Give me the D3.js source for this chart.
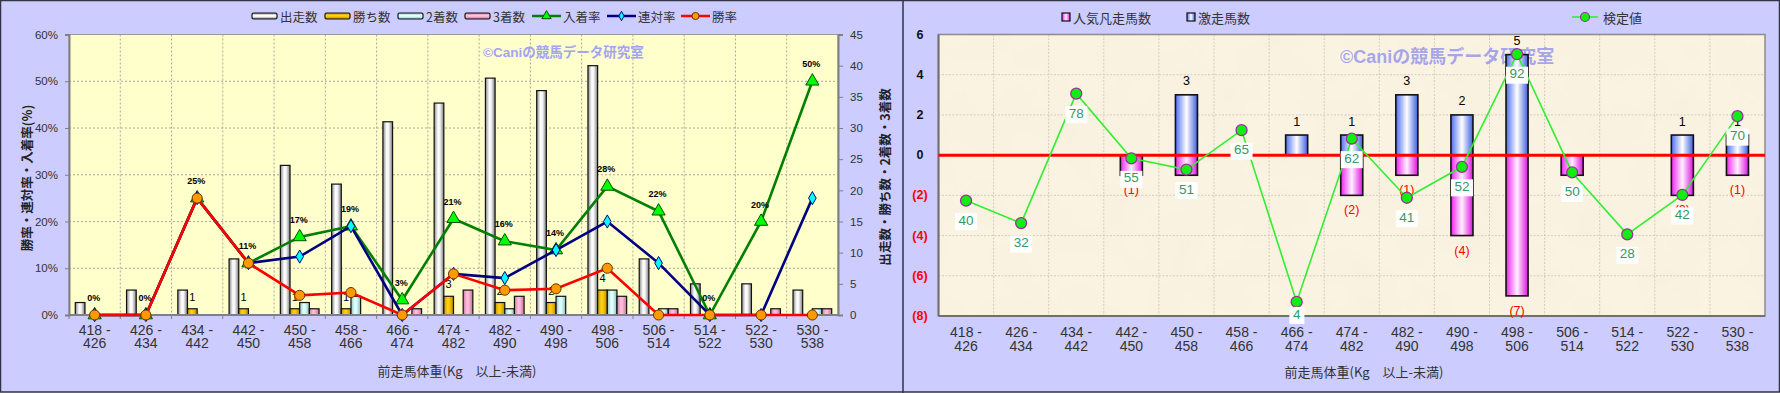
<!DOCTYPE html>
<html><head><meta charset="utf-8">
<script src="https://cdn.jsdelivr.net/npm/d3@7"></script>
<style>
html,body{margin:0;padding:0;background:#fff;}
svg{display:block;}
text{font-family:"Liberation Sans","Noto Sans CJK JP",sans-serif;}
.cjk{font-family:"Noto Sans CJK JP","Liberation Sans",sans-serif;}
</style></head><body>
<svg id="chart" width="1780" height="393"></svg>
<script>
// ---------- data ----------
const categories = ["418-426","426-434","434-442","442-450","450-458","458-466","466-474","474-482","482-490","490-498","498-506","506-514","514-522","522-530","530-538"];
// left chart: counts (right axis)
const runs    = [2,4,4,9,24,21,31,34,38,36,40,9,5,5,4];
const wins    = [0,0,1,1,1,1,0,3,2,2,4,0,0,0,0];
const seconds = [0,0,0,0,2,3,0,0,1,3,4,1,0,0,1];
const thirds  = [0,0,0,0,1,0,1,4,3,0,3,1,0,1,1];
// left chart: rates in % (left axis)
const placeRate  = [0,0,25,11.1,16.7,19.0,3.2,20.6,15.8,13.9,27.5,22.2,0,20,50];
const rentaiRate = [0,0,25,11.1,12.5,19.0,0,8.8,7.9,13.9,20,11.1,0,0,25];
const winRate    = [0,0,25,11.1,4.2,4.8,0,8.8,5.3,5.6,10,0,0,0,0];
const pctTicks = [0,10,20,30,40,50,60];
const cntTicks = [0,5,10,15,20,25,30,35,40,45];
// right chart
const gekisou = [0,0,0,0,3,0,1,1,3,2,5,0,0,1,1];   // 激走馬数 (up)
const bonsou  = [0,0,0,1,1,0,0,2,1,4,7,1,0,2,1];   // 人気凡走馬数 (down)
const kentei  = [40,32,78,55,51,65,4,62,41,52,92,50,28,42,70]; // 検定値
const rTicks = [-8,-6,-4,-2,0,2,4,6];

// ---------- setup ----------
const svg = d3.select("#chart");
const defs = svg.append("defs");
function grad(id, stops, vertical){
  const g = defs.append("linearGradient").attr("id", id)
    .attr("x1",0).attr("y1",0).attr("x2",vertical?0:1).attr("y2",vertical?1:0);
  stops.forEach(([o,c]) => g.append("stop").attr("offset",o).attr("stop-color",c));
}
const gradDefs = {
  gray:  [["0","#8a8a8a"],["0.4","#ffffff"],["0.6","#f4f4f4"],["1","#7a7a7a"]],
  gold:  [["0","#c99400"],["0.4","#ffd21a"],["0.6","#f7c600"],["1","#b98700"]],
  cyan:  [["0","#8fc4c4"],["0.4","#e6ffff"],["0.6","#d4fbfb"],["1","#86b8b8"]],
  pinkL: [["0","#cf7aa4"],["0.4","#ffc2de"],["0.6","#fbb2d4"],["1","#c56e98"]],
  blue:  [["0","#4d6ef0"],["0.5","#ffffff"],["1","#3d5ee0"]],
  mag:   [["0","#ee22ee"],["0.5","#fff0ff"],["1","#e010e0"]]
};
Object.entries(gradDefs).forEach(([k,s]) => { grad("h_"+k, s, false); grad("v_"+k, s, true); });

// parchment texture
const f = defs.append("filter").attr("id","parch").attr("x",0).attr("y",0).attr("width","100%").attr("height","100%");
f.append("feTurbulence").attr("type","fractalNoise").attr("baseFrequency","0.02").attr("numOctaves",4).attr("seed",7);
f.append("feColorMatrix").attr("type","matrix")
  .attr("values","0 0 0 0 0.90  0 0 0 0 0.83  0 0 0 0 0.66  0.55 0 0 0 -0.2");

// panels
svg.append("rect").attr("x",0.5).attr("y",0.5).attr("width",1779).attr("height",391.5)
  .attr("fill","#CCCCFF").attr("stroke","#333344").attr("stroke-width",1.5);
svg.append("line").attr("x1",903).attr("x2",903).attr("y1",0).attr("y2",393)
  .attr("stroke","#333344").attr("stroke-width",1.5);

// ================= LEFT CHART =================
const L = {left:69, right:838, top:34.5, bottom:315};
const barKeys = ["runs","wins","seconds","thirds"];
const barData = {runs, wins, seconds, thirds};
const barFill = {runs:"gray", wins:"gold", seconds:"cyan", thirds:"pinkL"};
const xL = d3.scaleBand().domain(categories).range([L.left, L.right]);
const xLs = d3.scaleBand().domain(barKeys).range([0, xL.bandwidth()]).paddingOuter(0.65);
const yPct = d3.scaleLinear().domain([0,60]).range([L.bottom, L.top]);
const yCnt = d3.scaleLinear().domain([0,45]).range([L.bottom, L.top]);
const gl = svg.append("g");

gl.append("rect").attr("x",L.left).attr("y",L.top).attr("width",L.right-L.left).attr("height",L.bottom-L.top)
  .attr("fill","#FFFFCC");
// grid
gl.selectAll(".hg").data(pctTicks.filter(d=>d>0)).join("line")
  .attr("x1",L.left).attr("x2",L.right).attr("y1",d=>yPct(d)).attr("y2",d=>yPct(d))
  .attr("stroke","#a8a8a0").attr("stroke-dasharray","2,2");
gl.selectAll(".vg").data(categories.slice(1)).join("line")
  .attr("x1",d=>xL(d)).attr("x2",d=>xL(d)).attr("y1",L.top).attr("y2",L.bottom)
  .attr("stroke","#a8a8a0").attr("stroke-dasharray","2,2");
gl.append("rect").attr("x",L.left).attr("y",L.top).attr("width",L.right-L.left).attr("height",L.bottom-L.top)
  .attr("fill","none").attr("stroke","#9a9a9a");

// watermark
gl.append("text").attr("x",483).attr("y",52).attr("dominant-baseline","central")
  .attr("font-size",13.5).attr("font-weight","bold").attr("fill","#a3a3f5")
  .text("©Caniの競馬データ研究室");

// bars
barKeys.forEach(k => {
  gl.append("g").selectAll("rect").data(barData[k].map((v,i)=>({v,c:categories[i]})).filter(d=>d.v>0)).join("rect")
    .attr("x",d=>xL(d.c)+xLs(k)).attr("width",xLs.bandwidth())
    .attr("y",d=>yCnt(d.v)).attr("height",d=>yCnt(0)-yCnt(d.v))
    .attr("fill","url(#h_"+barFill[k]+")").attr("stroke","#111").attr("stroke-width",1.2);
});
// win labels
gl.append("g").selectAll("text").data(wins.map((v,i)=>({v,c:categories[i]})).filter(d=>d.v>0)).join("text")
  .attr("x",d=>xL(d.c)+xLs("wins")+xLs.bandwidth()/2).attr("y",d=>yCnt(d.v)-12)
  .attr("text-anchor","middle").attr("dominant-baseline","central")
  .attr("font-size",11).attr("fill","#000").text(d=>d.v);

// axes
const axL = gl.append("g").attr("transform",`translate(${L.left},0)`)
  .call(d3.axisLeft(yPct).tickValues(pctTicks).tickFormat(d=>d+"%").tickSize(4).tickPadding(7));
const axR = gl.append("g").attr("transform",`translate(${L.right},0)`)
  .call(d3.axisRight(yCnt).tickValues(cntTicks).tickSize(5).tickPadding(7));
[axL,axR].forEach(a=>{
  a.select(".domain").attr("stroke","#808080").attr("stroke-width",2);
  a.selectAll(".tick line").attr("stroke","#808080");
  a.selectAll("text").attr("font-size",11.5).attr("fill","#333").attr("font-family","Liberation Sans");
});
gl.append("line").attr("x1",L.left).attr("x2",L.right).attr("y1",L.bottom).attr("y2",L.bottom)
  .attr("stroke","#808080").attr("stroke-width",2);
gl.selectAll(".xt").data(categories).join("line")
  .attr("x1",d=>xL(d)).attr("x2",d=>xL(d)).attr("y1",L.bottom).attr("y2",L.bottom+4).attr("stroke","#808080");
function catLabels(g, xs, y1, y2){
  const t = g.append("g").selectAll("text").data(categories).join("text")
    .attr("text-anchor","middle").attr("font-size",14).attr("fill","#333")
    .attr("dominant-baseline","central");
  t.append("tspan").attr("x",d=>xs(d)).attr("y",y1).text(d=>d.split("-")[0]+" -");
  t.append("tspan").attr("x",d=>xs(d)).attr("y",y2).text(d=>d.split("-")[1]);
}
catLabels(gl, d=>xL(d)+xL.bandwidth()/2, 330, 343);

// lines
const cx = i => xL(categories[i]) + xL.bandwidth()/2;
const lineSeries = [
  {vals:placeRate, color:"#008000", mfill:"#00ff00", mstroke:"#005000", sym:d3.symbolTriangle, size:75},
  {vals:rentaiRate, color:"#000080", mfill:"#00ffff", mstroke:"#000080", sym:d3.symbolDiamond, size:50},
  {vals:winRate, color:"#ff0000", mfill:"#ff9900", mstroke:"#663300", sym:d3.symbolCircle, size:80}
];
lineSeries.forEach(s=>{
  gl.append("path").datum(s.vals).attr("fill","none").attr("stroke",s.color).attr("stroke-width",2.6)
    .attr("d", d3.line().x((d,i)=>cx(i)).y(d=>yPct(d)));
  gl.append("g").selectAll("path").data(s.vals).join("path")
    .attr("transform",(d,i)=>`translate(${cx(i)},${yPct(d)})`)
    .attr("d", d3.symbol().type(s.sym).size(s.size)())
    .attr("fill",s.mfill).attr("stroke",s.mstroke).attr("stroke-width",1);
});
// place-rate labels
gl.append("g").selectAll("text").data(placeRate).join("text")
  .attr("x",(d,i)=>cx(i)-1).attr("y",d=>yPct(d)-17)
  .attr("text-anchor","middle").attr("dominant-baseline","central")
  .attr("font-size",9).attr("font-weight","bold").attr("fill","#000")
  .text(d=>Math.round(d)+"%");

// legend
const legL = [
  {x:252, label:"出走数", type:"bar", fill:"gray"},
  {x:325, label:"勝ち数", type:"bar", fill:"gold"},
  {x:398, label:"2着数", type:"bar", fill:"cyan"},
  {x:465, label:"3着数", type:"bar", fill:"pinkL"},
  {x:532, label:"入着率", type:"line", s:lineSeries[0]},
  {x:607, label:"連対率", type:"line", s:lineSeries[1]},
  {x:681, label:"勝率", type:"line", s:lineSeries[2]}
];
legL.forEach(it=>{
  const g = gl.append("g");
  if(it.type==="bar"){
    g.append("rect").attr("x",it.x).attr("y",13).attr("width",25).attr("height",6).attr("rx",1.5)
      .attr("fill","url(#v_"+it.fill+")").attr("stroke","#111").attr("stroke-width",1.2);
  } else {
    g.append("line").attr("x1",it.x).attr("x2",it.x+29).attr("y1",16).attr("y2",16)
      .attr("stroke",it.s.color).attr("stroke-width",2.5);
    g.append("path").attr("transform",`translate(${it.x+14.5},16)`)
      .attr("d", d3.symbol().type(it.s.sym).size(it.s.size*0.5)())
      .attr("fill",it.s.mfill).attr("stroke",it.s.mstroke).attr("stroke-width",1);
  }
  g.append("text").attr("class","cjk").attr("x",it.x+(it.type==="bar"?28:31)).attr("y",16)
    .attr("dominant-baseline","central").attr("font-size",12.5).attr("fill","#333").text(it.label);
});
// axis titles
gl.append("text").attr("class","cjk").attr("transform","translate(26,178) rotate(-90)")
  .attr("text-anchor","middle").attr("dominant-baseline","central")
  .attr("font-size",12.5).attr("font-weight","bold").attr("fill","#222").text("勝率・連対率・入着率(%)");
gl.append("text").attr("class","cjk").attr("transform","translate(884,177) rotate(-90)")
  .attr("text-anchor","middle").attr("dominant-baseline","central")
  .attr("font-size",12.5).attr("font-weight","bold").attr("fill","#222").text("出走数・勝ち数・2着数・3着数");
gl.append("text").attr("class","cjk").attr("x",457).attr("y",370)
  .attr("text-anchor","middle").attr("dominant-baseline","central")
  .attr("font-size",13).attr("fill","#333").text("前走馬体重(Kg　以上-未満)");

// ================= RIGHT CHART =================
const R = {left:938.5, right:1765, top:34.5, bottom:316};
const xR = d3.scaleBand().domain(categories).range([R.left,R.right]).paddingInner(0.6).paddingOuter(0.3);
const yR = d3.scaleLinear().domain([-8,6]).range([R.bottom,R.top]);
const yK = d3.scaleLinear().domain([-1,99]).range([R.bottom,R.top]);
const gr = svg.append("g");
const cR = c => xR(c) + xR.bandwidth()/2;
const bR = c => xR(c) - xR.step()*xR.paddingOuter();

gr.append("rect").attr("x",R.left).attr("y",R.top).attr("width",R.right-R.left).attr("height",R.bottom-R.top)
  .attr("fill","#FBF3E2");
gr.append("rect").attr("x",R.left).attr("y",R.top).attr("width",R.right-R.left).attr("height",R.bottom-R.top)
  .attr("fill","#fff").attr("filter","url(#parch)");
gr.selectAll(".hg").data(rTicks.filter(d=>d>-8 && d<6)).join("line")
  .attr("x1",R.left).attr("x2",R.right).attr("y1",d=>yR(d)).attr("y2",d=>yR(d))
  .attr("stroke","#d2ccc0").attr("stroke-dasharray","2,1.5");
gr.selectAll(".vg").data(categories.slice(1)).join("line")
  .attr("x1",d=>bR(d)).attr("x2",d=>bR(d)).attr("y1",R.top).attr("y2",R.bottom)
  .attr("stroke","#d2ccc0").attr("stroke-dasharray","2,1.5");
gr.append("rect").attr("x",R.left).attr("y",R.top).attr("width",R.right-R.left).attr("height",R.bottom-R.top)
  .attr("fill","none").attr("stroke","#8c8c8c").attr("stroke-width",1.5);
gr.append("line").attr("x1",R.left).attr("x2",R.left).attr("y1",R.top).attr("y2",R.bottom)
  .attr("stroke","#707070").attr("stroke-width",2);
gr.append("line").attr("x1",R.left).attr("x2",R.right).attr("y1",R.bottom).attr("y2",R.bottom)
  .attr("stroke","#707070").attr("stroke-width",2);

// watermark
gr.append("text").attr("x",1340).attr("y",57).attr("dominant-baseline","central")
  .attr("font-size",18).attr("font-weight","bold").attr("fill","#9b9bee").attr("fill-opacity",0.9)
  .text("©Caniの競馬データ研究室");

// y ticks
gr.append("g").selectAll("text").data(rTicks).join("text")
  .attr("x",920).attr("y",d=>yR(d)).attr("text-anchor","middle").attr("dominant-baseline","central")
  .attr("font-size",12.5).attr("font-weight","bold")
  .attr("fill",d=>d<0?"#ff0000":"#111").text(d=>d<0?`(${-d})`:d);
catLabels(gr, cR, 332, 346);

// bars
gr.append("g").selectAll("rect").data(gekisou.map((v,i)=>({v,c:categories[i]})).filter(d=>d.v>0)).join("rect")
  .attr("x",d=>xR(d.c)).attr("width",xR.bandwidth())
  .attr("y",d=>yR(d.v)).attr("height",d=>yR(0)-yR(d.v))
  .attr("fill","url(#h_blue)").attr("stroke","#111").attr("stroke-width",1.6);
gr.append("g").selectAll("rect").data(bonsou.map((v,i)=>({v,c:categories[i]})).filter(d=>d.v>0)).join("rect")
  .attr("x",d=>xR(d.c)).attr("width",xR.bandwidth())
  .attr("y",yR(0)).attr("height",d=>yR(-d.v)-yR(0))
  .attr("fill","url(#h_mag)").attr("stroke","#111").attr("stroke-width",1.6);
// count labels
gr.append("g").selectAll("text").data(gekisou.map((v,i)=>({v,c:categories[i]})).filter(d=>d.v>0)).join("text")
  .attr("x",d=>cR(d.c)).attr("y",d=>yR(d.v)-13.5).attr("text-anchor","middle").attr("dominant-baseline","central")
  .attr("font-size",12.5).attr("fill","#000").text(d=>d.v);
gr.append("g").selectAll("text").data(bonsou.map((v,i)=>({v,c:categories[i]})).filter(d=>d.v>0)).join("text")
  .attr("x",d=>cR(d.c)).attr("y",d=>yR(-d.v)+15).attr("text-anchor","middle").attr("dominant-baseline","central")
  .attr("font-size",12.5).attr("fill","#ff0000").text(d=>`(${d.v})`);
// zero line
gr.append("line").attr("x1",R.left).attr("x2",R.right).attr("y1",yR(0)).attr("y2",yR(0))
  .attr("stroke","#ff0000").attr("stroke-width",3);
// kentei line
const kx = i => cR(categories[i]);
gr.append("path").datum(kentei).attr("fill","none").attr("stroke","#33ee33").attr("stroke-width",1.6)
  .attr("d", d3.line().x((d,i)=>kx(i)).y(d=>yK(d)));
gr.append("g").selectAll("circle").data(kentei).join("circle")
  .attr("cx",(d,i)=>kx(i)).attr("cy",d=>yK(d)).attr("r",5.5)
  .attr("fill","#11ee11").attr("stroke","#993399").attr("stroke-width",1.3);
const kl = gr.append("g").selectAll("g").data(kentei).join("g")
  .attr("transform",(d,i)=>`translate(${kx(i)},${Math.min(yK(d)+19.5, R.bottom-2)})`);
const kt = kl.append("text").attr("text-anchor","middle").attr("dominant-baseline","central")
  .attr("font-size",13.5).attr("fill","#339966").text(d=>d);
kl.each(function(){
  const t = d3.select(this).select("text");
  const bb = t.node().getBBox();
  d3.select(this).insert("rect","text").attr("x",bb.x-3.5).attr("y",bb.y+0.5)
    .attr("width",bb.width+7).attr("height",bb.height+2).attr("fill","#fff");
});

// legend right
const legR = [
  {x:1062, label:"人気凡走馬数", fill:"mag"},
  {x:1187, label:"激走馬数", fill:"blue"}
];
legR.forEach(it=>{
  gr.append("rect").attr("x",it.x).attr("y",13).attr("width",8).attr("height",8)
    .attr("fill","url(#h_"+it.fill+")").attr("stroke","#111").attr("stroke-width",1.2);
  gr.append("text").attr("class","cjk").attr("x",it.x+11).attr("y",17).attr("dominant-baseline","central")
    .attr("font-size",13).attr("fill","#333").text(it.label);
});
gr.append("line").attr("x1",1572).attr("x2",1598).attr("y1",17).attr("y2",17).attr("stroke","#33ee33").attr("stroke-width",1.6);
gr.append("circle").attr("cx",1585).attr("cy",17).attr("r",4.5).attr("fill","#11ee11").attr("stroke","#993399").attr("stroke-width",1.2);
gr.append("text").attr("class","cjk").attr("x",1603).attr("y",17).attr("dominant-baseline","central")
  .attr("font-size",13).attr("fill","#333").text("検定値");
gr.append("text").attr("class","cjk").attr("x",1364).attr("y",371)
  .attr("text-anchor","middle").attr("dominant-baseline","central")
  .attr("font-size",13).attr("fill","#333").text("前走馬体重(Kg　以上-未満)");
</script>
</body></html>
